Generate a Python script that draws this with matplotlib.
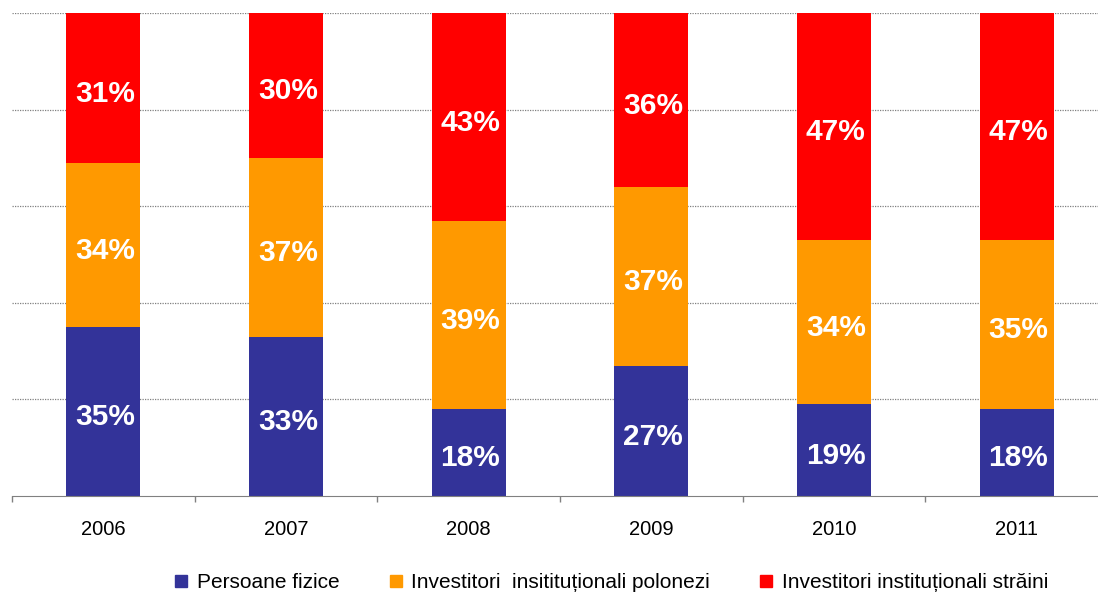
import matplotlib.pyplot as plt
from matplotlib.lines import Line2D
import numpy as np

plt.rcParams['font.family'] = ['Liberation Sans', 'DejaVu Sans']

years = ['2006', '2007', '2008', '2009', '2010', '2011']
persoane = [35, 33, 18, 27, 19, 18]
polonezi = [34, 37, 39, 37, 34, 35]
straini = [31, 30, 43, 36, 47, 47]

labels = ['Persoane fizice', 'Investitori  insitituționali polonezi',
          'Investitori instituționali străini']
colors = ['#333399', '#FF9900', '#FF0000']

W, H = 1098, 595
fig = plt.figure(figsize=(W / 100, H / 100), dpi=100)
ax = fig.add_axes([12 / W, 1 - 496 / H, 1096 / W, (496 - 13) / H])

x = np.arange(len(years))
bottom = np.zeros(len(years))
for vals, c in zip([persoane, polonezi, straini], colors):
    bars = ax.bar(x, vals, width=0.405, bottom=bottom, color=c, zorder=2)
    for b, v in zip(bars, vals):
        ax.text(b.get_x() + b.get_width() / 2 + 0.01, b.get_y() + v / 2 - 1.2,
                f'{v}%', ha='center', va='center', color='white',
                fontsize=21.5, fontweight='bold', zorder=3)
    bottom += np.array(vals)

ax.set_xlim(-0.5, len(years) - 0.5)
ax.set_ylim(0, 100)
ax.set_yticks([20, 40, 60, 80, 100])
ax.set_yticklabels([])
ax.tick_params(axis='y', length=0)
ax.yaxis.grid(True, color='#808080', linestyle=(0, (1, 1)), linewidth=0.9, zorder=1)

ax.set_xticks(x)
ax.set_xticklabels(years, fontsize=14.5)
ax.tick_params(axis='x', which='major', length=0, pad=17)
ax.set_xticks(np.arange(-0.5, len(years)), minor=True)
ax.tick_params(axis='x', which='minor', length=4, color='#808080', width=1)

for s in ['top', 'right', 'left']:
    ax.spines[s].set_visible(False)
ax.spines['bottom'].set_color('#808080')

handles = [Line2D([], [], marker='s', linestyle='none', markersize=8.6,
                  markerfacecolor=c, markeredgecolor=c) for c in colors]
fig.legend(handles, labels, loc='center', bbox_to_anchor=(0.557, 1 - 583 / H),
           ncol=3, frameon=False, fontsize=15, handlelength=0.6,
           handletextpad=0.45, columnspacing=2.4)

fig.savefig('out.png', dpi=100)
